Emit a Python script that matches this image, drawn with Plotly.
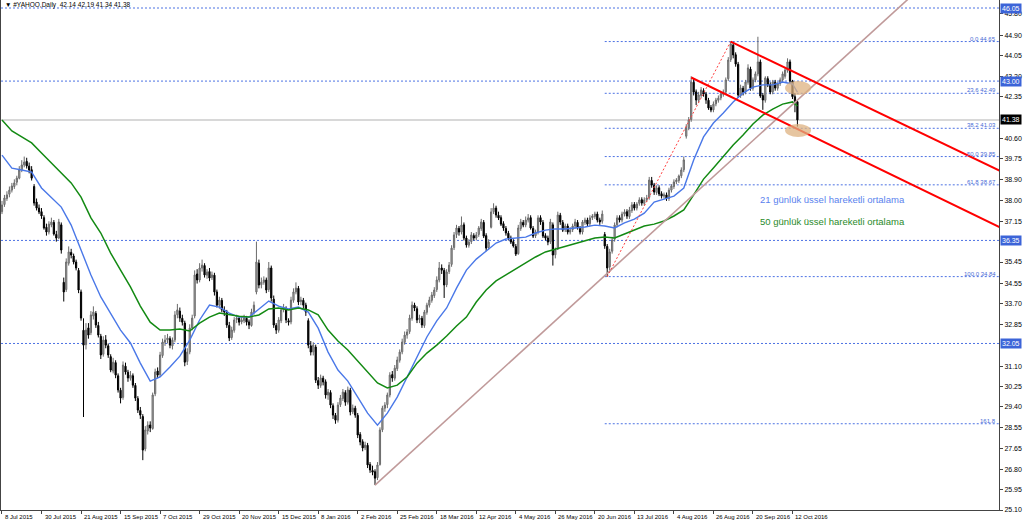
import plotly.graph_objects as go

# ---------------- data ----------------
opens = [
37.55,37.85,38.10,38.28,38.45,38.60,38.78,38.95,39.30,39.50,
39.65,39.45,39.30,38.60,37.95,37.70,37.55,37.30,36.90,36.70,
37.00,37.10,36.60,36.45,37.00,34.60,34.30,35.40,35.85,35.70,
35.45,35.10,34.20,32.60,32.00,32.70,32.50,33.20,33.30,32.80,
32.35,31.60,32.20,31.95,31.50,30.90,31.25,30.70,30.10,29.80,
31.10,30.85,30.60,30.70,30.30,29.75,29.25,29.00,27.65,28.40,
28.65,28.50,29.95,30.90,30.75,31.55,32.10,32.20,32.25,31.95,
32.20,33.25,33.40,33.10,32.90,31.30,31.70,32.70,33.20,34.95,
34.70,35.20,35.30,34.90,35.05,34.80,34.90,34.20,33.65,33.85,
33.45,33.35,32.80,32.30,32.60,33.05,33.10,32.95,33.00,33.10,
32.95,32.80,33.35,34.20,35.40,34.50,34.60,34.70,34.30,35.20,
33.90,32.80,32.60,33.00,33.45,33.50,33.00,32.95,33.85,34.20,
34.35,33.80,33.85,33.65,33.00,31.95,31.70,31.90,30.50,30.30,
30.60,30.45,29.90,30.00,29.45,29.05,28.85,29.50,29.75,30.00,
29.60,30.10,29.20,29.35,29.05,28.25,27.95,27.70,27.80,27.00,
26.75,26.70,26.45,27.00,28.45,29.35,29.50,29.90,30.75,30.60,
31.00,31.35,31.70,32.10,32.40,32.55,33.10,33.65,33.50,33.05,
33.10,32.80,33.35,33.65,33.85,34.05,34.30,34.70,35.20,35.10,
34.50,35.05,35.35,36.05,36.60,36.85,36.70,37.00,36.45,36.15,
36.30,36.55,36.45,36.60,36.85,37.10,36.55,36.05,36.90,37.55,
37.70,37.40,37.30,37.05,36.85,36.65,36.45,36.30,36.10,35.80,
36.85,37.10,37.00,37.20,37.30,36.85,36.55,36.70,37.30,37.10,
36.55,36.45,36.30,37.00,35.75,36.00,37.40,37.10,36.80,36.95,
36.70,36.80,36.95,37.10,36.85,36.70,37.10,37.20,37.05,37.30,
37.35,37.45,37.20,37.15,36.60,36.10,35.25,35.90,36.40,37.00,
37.30,37.20,37.45,37.55,37.35,37.60,37.85,37.70,37.90,38.05,
37.90,38.05,38.15,38.85,38.65,38.35,38.55,38.30,38.20,38.25,
38.10,38.45,38.60,38.80,38.85,39.05,39.30,40.70,41.05,41.40,
42.95,42.55,42.20,42.40,42.60,42.45,42.20,41.90,41.80,42.05,
42.20,42.30,42.45,42.55,43.10,43.90,44.50,44.10,43.70,42.40,
42.70,42.55,42.95,43.50,42.70,43.05,43.30,43.80,42.40,42.20,
43.10,42.85,42.55,42.95,42.70,42.90,43.05,43.20,43.45,43.80,
43.00,42.35,42.14]

highs = [
38.00,38.25,38.40,38.60,38.75,38.90,39.05,39.45,39.70,39.85,
39.80,39.60,39.45,38.70,38.10,37.85,37.70,37.40,37.05,37.15,
37.30,37.20,36.75,37.25,37.10,34.80,35.60,36.10,36.00,35.80,
35.55,35.20,34.30,33.10,32.90,32.90,33.40,33.60,33.40,32.95,
32.45,32.35,32.40,32.05,31.60,31.45,31.35,30.80,30.20,31.30,
31.25,30.95,30.90,30.80,30.40,29.85,29.40,29.10,28.60,28.80,
28.80,30.00,31.00,31.05,31.70,32.25,32.40,32.45,32.35,32.30,
33.40,33.70,33.55,33.25,33.00,31.85,32.85,33.25,35.10,35.15,
35.40,35.55,35.40,35.15,35.20,35.05,35.00,34.30,34.00,33.95,
33.60,33.45,32.95,32.75,33.15,33.25,33.20,33.15,33.25,33.20,
33.05,33.50,33.80,36.30,35.55,34.80,34.85,34.80,35.45,35.30,
34.05,32.90,33.15,33.55,33.70,33.60,33.10,34.00,34.35,34.60,
34.45,34.00,33.95,33.75,33.10,32.15,32.10,32.00,30.65,30.75,
30.70,30.55,30.15,30.10,29.55,29.15,29.60,29.90,30.15,30.10,
30.25,30.20,29.50,29.45,29.15,28.35,28.05,27.95,27.90,27.10,
26.95,26.80,27.10,28.55,29.45,29.60,30.00,30.85,30.90,31.15,
31.50,31.80,32.25,32.55,32.65,33.25,33.80,33.75,33.60,33.25,
33.20,33.45,33.75,34.00,34.20,34.40,34.85,35.45,35.35,35.20,
35.15,35.45,36.15,36.70,37.00,36.95,37.35,37.10,36.55,36.40,
36.70,36.65,36.70,36.95,37.25,37.20,36.65,36.40,37.70,37.90,
37.80,37.55,37.40,37.15,36.95,36.75,36.55,36.40,36.20,37.00,
37.25,37.20,37.35,37.45,37.40,36.95,36.80,37.40,37.40,37.20,
36.65,36.55,37.25,37.10,36.05,37.55,37.50,37.20,37.05,37.05,
36.90,37.05,37.25,37.20,36.95,37.20,37.30,37.30,37.40,37.45,
37.55,37.55,37.30,37.60,36.70,36.20,36.00,36.50,37.10,37.40,
37.40,37.55,37.65,37.65,37.75,37.95,37.95,37.95,38.15,38.15,
38.15,38.25,39.00,39.00,38.75,38.65,38.65,38.40,38.35,38.35,
38.55,38.70,38.90,38.95,39.10,39.40,39.85,41.20,41.50,43.20,
43.10,42.65,42.55,42.75,42.70,42.55,42.30,42.00,42.15,42.30,
42.40,42.55,42.65,43.15,44.00,44.65,44.60,44.20,43.80,42.85,
42.80,43.05,43.70,43.60,43.15,43.40,44.85,43.90,42.50,43.20,
43.20,42.95,43.05,43.05,42.95,43.15,43.40,43.55,43.95,43.90,
43.05,42.50,42.19]

lows = [
37.45,37.75,38.00,38.15,38.35,38.50,38.65,38.90,39.20,39.40,
39.35,39.15,38.85,37.80,37.60,37.45,37.25,36.80,36.55,36.60,
36.90,36.55,36.30,36.40,35.80,33.80,34.20,35.30,35.60,35.35,
35.10,34.15,33.00,28.98,31.80,32.25,32.40,33.05,32.70,32.30,
31.40,31.50,31.85,31.45,30.85,30.80,30.60,30.00,29.55,29.70,
30.75,30.45,30.50,30.20,29.65,29.15,28.90,27.18,27.55,28.25,
28.35,28.45,29.85,30.60,30.65,31.45,31.95,32.05,31.85,31.80,
32.10,33.10,32.95,32.80,31.10,31.15,31.60,32.60,33.10,34.55,
34.60,35.05,34.80,34.75,34.65,34.70,34.05,33.55,33.50,33.35,
33.20,32.70,32.15,32.20,32.50,32.90,32.80,32.85,32.90,32.80,
32.65,32.75,33.25,34.10,34.35,34.35,34.50,34.15,34.20,33.80,
32.70,32.45,32.50,32.90,33.35,32.90,32.80,32.85,33.75,34.10,
33.65,33.65,33.50,33.20,31.85,31.55,31.55,30.40,30.15,30.20,
30.30,29.75,29.70,29.35,28.90,28.70,28.75,29.40,29.65,29.45,
29.50,29.05,29.10,28.95,28.10,27.80,27.55,27.60,26.85,26.65,
26.55,26.14,26.35,26.95,28.35,29.20,29.35,29.80,30.45,30.50,
30.90,31.25,31.60,32.00,32.25,32.45,33.00,33.40,32.90,32.90,
32.70,32.70,33.25,33.55,33.75,33.95,34.20,34.60,34.95,33.95,
34.40,34.95,35.25,35.95,36.45,36.55,36.60,36.35,36.05,36.05,
36.20,36.35,36.35,36.50,36.75,36.45,35.90,35.95,36.85,37.45,
37.30,37.20,36.95,36.75,36.55,36.35,36.20,36.05,35.70,35.75,
36.75,36.90,36.90,37.10,36.80,36.45,36.45,36.60,37.00,36.45,
36.35,36.15,36.20,35.30,35.60,35.95,37.00,36.70,36.70,36.60,
36.60,36.70,36.85,36.80,36.60,36.60,37.00,36.95,36.95,37.20,
37.25,37.10,37.00,37.05,36.00,34.84,35.10,35.80,36.30,36.90,
37.10,37.10,37.35,37.25,37.25,37.50,37.60,37.60,37.80,37.80,
37.80,37.95,38.05,38.55,38.25,38.25,38.20,38.10,38.10,38.00,
38.00,38.35,38.50,38.70,38.75,38.95,39.20,40.60,40.95,41.30,
42.40,42.00,42.10,42.30,42.35,42.05,41.80,41.70,41.70,41.95,
42.10,42.20,42.35,42.45,43.00,43.80,43.95,43.60,42.30,42.30,
42.40,42.45,42.85,42.60,42.60,42.95,43.20,42.30,41.80,42.10,
42.75,42.45,42.45,42.60,42.60,42.80,42.95,43.10,43.35,42.90,
42.25,41.70,41.10]

closes = [
37.83,38.12,38.25,38.45,38.62,38.75,38.95,39.29,39.50,39.62,
39.46,39.29,38.95,37.91,37.70,37.54,37.37,36.87,36.70,37.03,
37.12,36.62,36.45,37.12,35.95,34.20,35.45,35.87,35.74,35.45,
35.20,34.28,33.11,31.98,32.61,32.40,33.24,33.36,32.82,32.40,
31.57,32.19,31.98,31.57,30.94,31.27,30.73,30.11,29.77,31.15,
30.86,30.61,30.73,30.31,29.77,29.27,29.06,27.60,28.44,28.64,
28.52,29.90,30.86,30.73,31.57,32.11,32.19,32.28,31.98,32.19,
33.24,33.45,33.11,32.94,31.27,31.69,32.69,33.11,34.91,34.70,
35.20,35.32,34.91,35.03,34.78,34.91,34.20,33.65,33.86,33.45,
33.36,32.82,32.28,32.61,33.03,33.11,32.94,33.03,33.11,32.94,
32.82,33.36,33.65,35.45,34.49,34.61,34.70,34.28,35.20,33.95,
32.82,32.61,33.03,33.45,33.53,33.03,32.94,33.86,34.20,34.36,
33.78,33.86,33.65,33.36,31.98,31.69,31.98,30.52,30.31,30.61,
30.44,29.90,30.02,29.48,29.06,28.85,29.48,29.77,30.02,29.60,
30.11,29.19,29.35,29.06,28.23,27.94,27.69,27.81,26.98,26.77,
26.68,26.43,26.98,28.44,29.35,29.48,29.90,30.73,30.61,31.02,
31.36,31.69,32.11,32.40,32.53,33.11,33.65,33.53,33.03,33.11,
32.82,33.36,33.65,33.86,34.07,34.28,34.70,35.20,35.11,34.49,
35.03,35.32,36.03,36.58,36.87,36.70,36.99,36.45,36.16,36.28,
36.58,36.45,36.58,36.87,37.12,36.53,36.03,36.28,37.54,37.70,
37.41,37.29,37.03,36.87,36.66,36.45,36.28,36.12,35.78,36.87,
37.12,36.99,37.20,37.29,36.87,36.53,36.70,37.29,37.12,36.53,
36.45,36.28,37.12,35.74,35.95,37.41,37.12,36.78,36.95,36.70,
36.78,36.95,37.12,36.87,36.70,37.12,37.20,37.03,37.29,37.37,
37.45,37.20,37.12,37.45,36.12,35.20,35.87,36.37,36.99,37.29,
37.20,37.45,37.54,37.37,37.62,37.83,37.70,37.87,38.04,37.91,
38.04,38.12,38.87,38.66,38.37,38.54,38.29,38.20,38.25,38.12,
38.45,38.62,38.79,38.87,39.04,39.29,39.71,41.04,41.38,42.96,
42.54,42.21,42.42,42.63,42.46,42.21,41.88,41.79,42.04,42.21,
42.29,42.46,42.54,43.05,43.88,44.55,44.09,43.71,42.42,42.71,
42.54,42.96,43.55,42.71,43.05,43.30,43.80,42.38,42.21,43.13,
42.84,42.54,42.96,42.71,42.88,43.05,43.30,43.46,43.80,43.00,
42.35,42.14,41.38]

ema_bars = [0,4,8,12,16,20,24,28,32,36,40,44,48,52,56,60,64,68,72,76,
            80,84,88,92,96,100,104,108,112,116,120,124,128,132,136,140,144,148,152,156,
            160,164,168,172,176,180,184,188,192,196,200,204,208,212,216,220,224,228,232,236,
            240,244,248,252,256,260,264,268,272,276,280,284,288,292,296,300,304,308,312,316,
            320,322]
ema21 = [39.91,39.37,39.29,39.20,38.54,38.16,37.74,36.99,35.95,34.91,
         33.99,33.32,32.61,32.07,31.23,30.48,30.65,31.07,31.52,32.19,
         33.03,33.65,33.57,33.32,33.15,33.15,33.49,33.82,33.61,33.49,
         33.57,33.36,32.69,31.69,30.94,30.48,29.81,29.14,28.64,29.14,
         29.81,30.65,31.48,32.32,32.99,33.53,34.36,35.11,35.57,35.91,
         36.24,36.41,36.45,36.49,36.66,36.78,36.83,36.83,36.87,36.91,
         36.99,36.95,36.87,37.08,37.24,37.49,37.95,38.08,38.20,38.54,
         39.71,40.67,41.25,41.67,42.13,42.50,42.75,42.84,42.84,42.96,
         42.88,42.54]
ema50 = [41.38,40.92,40.67,40.42,40.00,39.58,39.16,38.75,38.16,37.29,
         36.66,35.82,35.11,34.41,33.61,32.94,32.61,32.61,32.65,32.57,
         32.90,33.15,33.32,33.24,33.19,33.15,33.24,33.49,33.53,33.45,
         33.53,33.45,33.24,32.61,32.15,31.78,31.32,30.82,30.40,30.19,
         30.31,30.65,31.23,31.65,31.98,32.36,32.78,33.15,33.78,34.28,
         34.66,34.91,35.16,35.41,35.66,35.87,35.99,36.12,36.24,36.33,
         36.45,36.49,36.45,36.62,36.78,36.95,37.03,37.16,37.37,37.62,
         38.25,38.91,39.37,39.87,40.33,40.75,41.21,41.58,41.83,42.04,
         42.13,41.96]

date_bars = [0,16,32,48,64,80,96,112,128,144,160,176,192,208,224,240,256,272,288,304,320]
date_labels = ["8 Jul 2015","30 Jul 2015","21 Aug 2015","15 Sep 2015","7 Oct 2015",
               "29 Oct 2015","20 Nov 2015","15 Dec 2015","8 Jan 2016","2 Feb 2016",
               "25 Feb 2016","18 Mar 2016","12 Apr 2016","4 May 2016","26 May 2016",
               "20 Jun 2016","13 Jul 2016","4 Aug 2016","26 Aug 2016","20 Sep 2016","12 Oct 2016"]

# price scale labels visible in the reference (those under the coloured boxes are hidden there)
price_ticks = [45.80,44.90,44.05,43.20,42.35,40.60,39.75,38.90,38.00,37.15,
               35.45,34.55,33.70,32.85,31.10,30.25,29.40,28.55,27.65,26.80,25.95,25.10]
price_tick_text = ["%.2f" % v for v in price_ticks]

hlines = [46.05, 43.00, 36.35, 32.05]
current_price = 41.38

fib_start_bar = 244
fib_levels = [44.65, 42.49, 41.03, 39.85, 38.67, 34.84, 28.70]
fib_names = ["0.0 44.65", "23.6 42.49", "38.2 41.03", "50.0 39.85", "61.8 38.67", "100.0 34.84", "161.8"]

trend_bars = [151, 380]
trend_prices = [26.14, 47.66]
fib_diag_bars = [245, 295]
fib_diag_prices = [34.84, 44.65]
chan_up_bars = [295, 404]
chan_up_prices = [44.65, 39.25]
chan_lo_bars = [279, 404]
chan_lo_prices = [43.15, 36.90]

ellipse_x = [[317, 327.5], [317, 327.5]]
ellipse_y = [[42.42, 43.00], [40.67, 41.21]]

note_texts = ["21 günlük üssel hareketli ortalama", "50 günlük üssel hareketli ortalama"]
note_prices = [38.04, 37.15]
note_bar = 306

title_text = "▼ #YAHOO,Daily\u00a0\u00a042.14 42.19 41.34 41.38"

# ---------------- figure ----------------
X_MIN, X_MAX = -0.4, 403.6
Y_MIN, Y_MAX = 25.10, 46.384
FONT = "Liberation Sans"
BLUE_DOT = "#4d72e3"
DOTS = "2px,2px"

fig = go.Figure()

fig.add_trace(go.Candlestick(
    x=list(range(len(closes))), open=opens, high=highs, low=lows, close=closes,
    increasing=dict(line=dict(color="#6a6a6a", width=1), fillcolor="#b0b0b0"),
    decreasing=dict(line=dict(color="#000000", width=1), fillcolor="#000000"),
    whiskerwidth=0, hoverinfo="skip", showlegend=False))

fig.add_trace(go.Scatter(x=ema_bars, y=ema21, mode="lines",
                         line=dict(color="#4a78e8", width=1.4), hoverinfo="skip"))
fig.add_trace(go.Scatter(x=ema_bars, y=ema50, mode="lines",
                         line=dict(color="#138a13", width=1.5), hoverinfo="skip"))
fig.add_trace(go.Scatter(x=trend_bars, y=trend_prices, mode="lines",
                         line=dict(color="#c09a9a", width=1.6), hoverinfo="skip"))
fig.add_trace(go.Scatter(x=fib_diag_bars, y=fib_diag_prices, mode="lines",
                         line=dict(color="#ff4040", width=1, dash=DOTS), hoverinfo="skip"))
fig.add_trace(go.Scatter(x=chan_up_bars, y=chan_up_prices, mode="lines",
                         line=dict(color="#ff0000", width=2), hoverinfo="skip"))
fig.add_trace(go.Scatter(x=chan_lo_bars, y=chan_lo_prices, mode="lines",
                         line=dict(color="#ff0000", width=2), hoverinfo="skip"))

shapes = []
for v in hlines:
    shapes.append(dict(type="line", xref="paper", x0=0, x1=1, yref="y", y0=v, y1=v,
                       line=dict(color=BLUE_DOT, width=1, dash=DOTS), layer="below"))
shapes.append(dict(type="line", xref="paper", x0=0, x1=1, yref="y", y0=current_price, y1=current_price,
                   line=dict(color="#d8d8d8", width=2), layer="below"))
for v in fib_levels:
    shapes.append(dict(type="line", xref="x", x0=fib_start_bar, x1=X_MAX, yref="y", y0=v, y1=v,
                       line=dict(color=BLUE_DOT, width=1, dash=DOTS), layer="below"))
for ex, ey in zip(ellipse_x, ellipse_y):
    shapes.append(dict(type="circle", xref="x", yref="y", x0=ex[0], x1=ex[1], y0=ey[0], y1=ey[1],
                       fillcolor="rgba(222,178,128,0.75)", line=dict(width=0), layer="above"))

annotations = []
for b, t in zip(date_bars, date_labels):
    annotations.append(dict(x=b, y=0, xref="x", yref="paper", text=t, showarrow=False,
                            xanchor="left", yanchor="top", xshift=1, yshift=-2,
                            font=dict(family=FONT, size=6, color="#000000")))
for v, t in zip(fib_levels, fib_names):
    annotations.append(dict(x=X_MAX - 0.6, y=v, xref="x", yref="y", text=t, showarrow=False,
                            xanchor="right", yanchor="bottom", yshift=-2,
                            font=dict(family=FONT, size=6, color="#4a6cd6")))
for v in hlines:
    annotations.append(dict(x=1, y=v, xref="paper", yref="y", text="%.2f" % v, showarrow=False,
                            xanchor="left", yanchor="middle", xshift=1, bgcolor="#3c64d8",
                            borderpad=1, font=dict(family=FONT, size=7, color="white")))
annotations.append(dict(x=1, y=current_price, xref="paper", yref="y", text="%.2f" % current_price,
                        showarrow=False, xanchor="left", yanchor="middle", xshift=1, bgcolor="#000000",
                        borderpad=1, font=dict(family=FONT, size=7, color="white")))
note_colors = ["#5a82ee", "#2a8a2a"]
for t, p, c in zip(note_texts, note_prices, note_colors):
    annotations.append(dict(x=note_bar, y=p, xref="x", yref="y", text=t, showarrow=False,
                            xanchor="left", yanchor="middle",
                            font=dict(family=FONT, size=9.5, color=c)))
annotations.append(dict(x=0, y=1, xref="paper", yref="paper", text=title_text, showarrow=False,
                        xanchor="left", yanchor="top", xshift=2, yshift=1,
                        font=dict(family=FONT, size=6.5, color="#000000")))

fig.update_layout(
    width=1024, height=525,
    margin=dict(l=1, r=25, t=0, b=15, autoexpand=False),
    paper_bgcolor="white", plot_bgcolor="white",
    showlegend=False, hovermode=False,
    shapes=shapes, annotations=annotations,
    xaxis=dict(range=[X_MIN, X_MAX], rangeslider=dict(visible=False), showgrid=False,
               zeroline=False, showline=True, linecolor="#444444", linewidth=1,
               ticks="outside", ticklen=3, tickcolor="#444444", automargin=False,
               tickvals=date_bars, showticklabels=False, fixedrange=True),
    yaxis=dict(side="right", range=[Y_MIN, Y_MAX], showgrid=False, zeroline=False,
               showline=True, mirror=True, linecolor="#444444", linewidth=1,
               ticks="outside", ticklen=3, tickcolor="#444444", automargin=False,
               tickvals=price_ticks, ticktext=price_tick_text,
               tickfont=dict(family=FONT, size=7, color="#000000"), fixedrange=True),
)

fig.write_html("out.html", config={"displayModeBar": False},
               post_script="document.body.style.margin='0';document.body.style.overflow='hidden';")
